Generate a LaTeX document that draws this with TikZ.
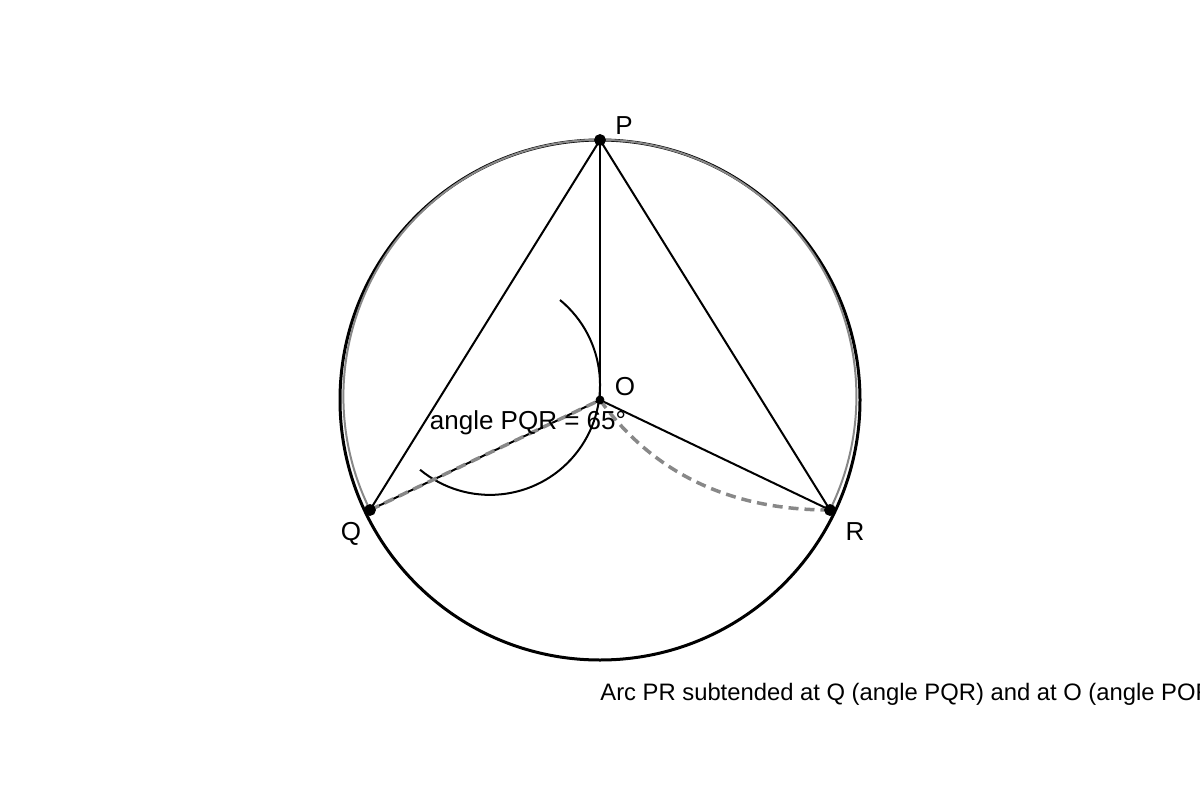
\documentclass[tikz,border=0pt]{standalone}
\usepackage{fontspec}
\setmainfont{Liberation Sans}
\definecolor{dashgray}{HTML}{888888}
\begin{document}
\begin{tikzpicture}[x = 0.5pt, y = 0.5pt,
		dot/.style = {fill = black, draw, circle, inner sep = 0pt, minimum size = 5.5pt},
		lbl/.style = {anchor = base, inner sep = 0pt, font = \fontsize{13pt}{15.6pt}\selectfont},
		dashline/.style = {draw = dashgray, line width = 1.75pt, dash pattern = on 5pt off 3pt}]
	\clip (0, 0) rectangle (1200, 800);

	\coordinate (O) at (600, 400);
	\coordinate (P) at (600, 660);
	\coordinate (Q) at (370, 290);
	\coordinate (R) at (830, 290);

	\coordinate (a1) at (560, 500);
	\coordinate (c1) at (653.3, 326.7);
	\coordinate (c2) at (730, 290);

	\draw [line width = 1.5pt] (O) circle [radius = 260];
	\draw [line width = 1pt, dashgray] (Q) arc [start angle = 206.3, end angle = -26.3, radius = 256.5];

	\draw [line width = 1pt] (P) -- (Q);
	\draw [line width = 1pt] (P) -- (R);
	\draw [line width = 1pt] (P) -- (O);
	\draw [line width = 1pt] (O) -- (Q);
	\draw [line width = 1pt] (O) -- (R);

	\draw [line width = 1pt] (a1) arc [start angle = 50.5, end angle = -129.5, radius = 110];

	\draw [dashline] (Q) -- (O);
	\draw [dashline] (O) .. controls (c1) and (c2) .. (R);

	\node [dot] (Pdot) at (P) {};
	\node [dot] (Qdot) at (Q) {};
	\node [dot] (Rdot) at (R) {};
	\node [dot, minimum size = 4pt] (Odot) at (O) {};

	\node [lbl] (Plbl) at (624, 666) {P};
	\node [lbl] (Olbl) at (625, 405) {O};
	\node [lbl] (Qlbl) at (351, 260) {Q};
	\node [lbl] (Rlbl) at (855, 260) {R};
	\node [lbl] (angle) at (528, 371) {angle PQR = 65°};
	\node [lbl, anchor = base west, font = \fontsize{11.9pt}{14.3pt}\selectfont] (caption) at (600, 100) {Arc PR subtended at Q (angle PQR) and at O (angle POR)};
\end{tikzpicture}
\end{document}
